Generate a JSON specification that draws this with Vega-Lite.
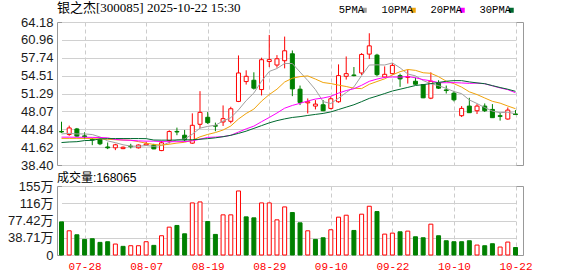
{
  "$schema": "https://vega.github.io/schema/vega-lite/v6.json",
  "background": "white",
  "padding": {"left": 6, "top": 1, "right": 0, "bottom": 0},
  "spacing": -2,
  "config": {
    "view": {"stroke": "#999999", "strokeWidth": 1},
    "axis": {"gridColor": "#d0d0d0", "gridWidth": 1, "labelFont": "Liberation Sans, Noto Sans CJK SC", "labelFontSize": 13, "labelColor": "#1a1a1a", "domain": false, "ticks": false, "labelOverlap": false}
  },
  "data": {"values": [
    {"d":"07-23","o":44.45,"h":46.2,"l":44.2,"c":44.35,"k":"g","v":74.4,"vd":"g","m5":44.0,"m10":43.2,"m20":43.42,"m30":42.45},
    {"d":"07-24","o":43.9,"h":45.5,"l":43.65,"c":45.08,"k":"r","v":54.3,"vd":"r","m5":44.1,"m10":43.2,"m20":43.42,"m30":42.55},
    {"d":"07-25","o":44.9,"h":45.08,"l":43.47,"c":43.6,"k":"g","v":45.4,"vd":"g","m5":44.0,"m10":43.2,"m20":43.4,"m30":42.6},
    {"d":"07-28","o":43.65,"h":44.3,"l":43.05,"c":43.5,"k":"g","v":35.0,"vd":"g","m5":44.0,"m10":43.2,"m20":43.4,"m30":42.8},
    {"d":"07-29","o":43.0,"h":43.29,"l":41.98,"c":42.9,"k":"g","v":36.5,"vd":"g","m5":43.89,"m10":43.15,"m20":43.38,"m30":42.85},
    {"d":"07-30","o":43.0,"h":43.17,"l":41.98,"c":42.22,"k":"g","v":28.3,"vd":"g","m5":43.46,"m10":43.1,"m20":43.35,"m30":43.1},
    {"d":"07-31","o":41.65,"h":42.46,"l":41.26,"c":41.5,"k":"g","v":29.8,"vd":"g","m5":42.74,"m10":43.05,"m20":43.3,"m30":43.15},
    {"d":"08-01","o":41.5,"h":42.22,"l":41.08,"c":42.04,"k":"r","v":24.6,"vd":"r","m5":42.43,"m10":42.95,"m20":43.0,"m30":43.17},
    {"d":"08-04","o":41.35,"h":41.74,"l":41.26,"c":41.6,"k":"r","v":19.4,"vd":"g","m5":42.05,"m10":42.9,"m20":42.9,"m30":43.17},
    {"d":"08-05","o":41.8,"h":42.22,"l":41.38,"c":41.7,"k":"g","v":20.8,"vd":"r","m5":41.81,"m10":42.85,"m20":42.85,"m30":43.17},
    {"d":"08-06","o":41.5,"h":42.1,"l":41.38,"c":42.0,"k":"r","v":20.8,"vd":"r","m5":41.77,"m10":42.61,"m20":42.75,"m30":43.17},
    {"d":"08-07","o":42.0,"h":42.58,"l":41.9,"c":42.2,"k":"r","v":29.8,"vd":"r","m5":41.91,"m10":42.33,"m20":42.7,"m30":43.15},
    {"d":"08-08","o":42.0,"h":42.22,"l":41.26,"c":41.3,"k":"g","v":21.6,"vd":"g","m5":41.76,"m10":42.10,"m20":42.7,"m30":42.9},
    {"d":"08-11","o":41.0,"h":42.76,"l":40.9,"c":42.4,"k":"r","v":43.2,"vd":"r","m5":41.92,"m10":41.99,"m20":42.62,"m30":42.88},
    {"d":"08-12","o":42.8,"h":44.66,"l":42.28,"c":44.43,"k":"r","v":62.5,"vd":"r","m5":42.47,"m10":42.14,"m20":42.6,"m30":42.88},
    {"d":"08-13","o":44.45,"h":45.14,"l":43.77,"c":44.35,"k":"g","v":66.3,"vd":"g","m5":42.94,"m10":42.35,"m20":42.6,"m30":42.9},
    {"d":"08-14","o":43.77,"h":44.72,"l":42.63,"c":42.95,"k":"g","v":47.6,"vd":"g","m5":43.09,"m10":42.50,"m20":42.62,"m30":42.92},
    {"d":"08-15","o":42.34,"h":47.71,"l":42.22,"c":45.56,"k":"r","v":116.9,"vd":"r","m5":43.94,"m10":42.85,"m20":42.75,"m30":42.95},
    {"d":"08-18","o":45.74,"h":51.71,"l":45.02,"c":47.89,"k":"r","v":119.1,"vd":"r","m5":45.04,"m10":43.48,"m20":43.05,"m30":43.05},
    {"d":"08-19","o":47.0,"h":47.95,"l":45.8,"c":46.04,"k":"g","v":75.2,"vd":"g","m5":45.36,"m10":43.91,"m20":43.38,"m30":43.15},
    {"d":"08-20","o":45.5,"h":46.04,"l":44.49,"c":45.4,"k":"g","v":46.2,"vd":"g","m5":45.57,"m10":44.25,"m20":43.43,"m30":43.3},
    {"d":"08-21","o":46.16,"h":49.14,"l":45.44,"c":46.75,"k":"r","v":90.1,"vd":"r","m5":46.33,"m10":44.71,"m20":43.52,"m30":43.5},
    {"d":"08-22","o":46.28,"h":48.9,"l":45.92,"c":48.54,"k":"r","v":90.1,"vd":"r","m5":46.92,"m10":45.43,"m20":43.76,"m30":43.75},
    {"d":"08-25","o":49.86,"h":58.15,"l":49.74,"c":54.99,"k":"r","v":143.7,"vd":"r","m5":48.34,"m10":46.69,"m20":44.34,"m30":44.1},
    {"d":"08-26","o":53.44,"h":55.47,"l":52.9,"c":54.39,"k":"r","v":85.6,"vd":"g","m5":50.01,"m10":47.69,"m20":44.91,"m30":44.5},
    {"d":"08-27","o":53.68,"h":55.11,"l":52.0,"c":52.25,"k":"g","v":83.4,"vd":"g","m5":51.38,"m10":48.48,"m20":45.41,"m30":45.0},
    {"d":"08-28","o":52.0,"h":57.74,"l":50.93,"c":57.38,"k":"r","v":116.9,"vd":"r","m5":53.51,"m10":49.92,"m20":46.21,"m30":45.5},
    {"d":"08-29","o":57.05,"h":61.85,"l":56.06,"c":57.4,"k":"r","v":116.9,"vd":"r","m5":55.27,"m10":51.10,"m20":46.97,"m30":46.0},
    {"d":"09-01","o":56.42,"h":58.21,"l":55.94,"c":57.55,"k":"r","v":78.9,"vd":"r","m5":55.79,"m10":52.07,"m20":47.77,"m30":46.4},
    {"d":"09-02","o":57.2,"h":61.55,"l":55.82,"c":58.99,"k":"r","v":107.9,"vd":"r","m5":56.71,"m10":53.36,"m20":48.64,"m30":46.71},
    {"d":"09-03","o":58.45,"h":59.05,"l":50.81,"c":52.12,"k":"g","v":95.3,"vd":"g","m5":56.69,"m10":54.04,"m20":49.14,"m30":46.97},
    {"d":"09-04","o":52.07,"h":52.72,"l":49.2,"c":49.68,"k":"g","v":72.2,"vd":"g","m5":55.15,"m10":54.33,"m20":49.52,"m30":47.12},
    {"d":"09-05","o":49.6,"h":50.4,"l":47.7,"c":49.8,"k":"r","v":54.3,"vd":"r","m5":53.64,"m10":54.46,"m20":49.94,"m30":47.33},
    {"d":"09-08","o":49.02,"h":50.1,"l":48.42,"c":49.38,"k":"r","v":35.0,"vd":"g","m5":51.99,"m10":53.89,"m20":50.29,"m30":47.52},
    {"d":"09-09","o":49.26,"h":50.1,"l":48.1,"c":48.18,"k":"g","v":38.7,"vd":"g","m5":49.83,"m10":53.27,"m20":50.48,"m30":47.70},
    {"d":"09-10","o":48.6,"h":50.69,"l":48.42,"c":50.34,"k":"r","v":56.6,"vd":"r","m5":49.48,"m10":53.08,"m20":50.78,"m30":47.97},
    {"d":"09-11","o":49.8,"h":56.54,"l":49.62,"c":54.51,"k":"r","v":84.9,"vd":"r","m5":50.44,"m10":52.80,"m20":51.36,"m30":48.40},
    {"d":"09-12","o":54.39,"h":57.97,"l":53.8,"c":54.87,"k":"r","v":89.3,"vd":"r","m5":51.46,"m10":52.55,"m20":51.82,"m30":48.83},
    {"d":"09-15","o":54.63,"h":56.06,"l":54.39,"c":54.51,"k":"g","v":55.1,"vd":"g","m5":52.48,"m10":52.24,"m20":52.15,"m30":49.26},
    {"d":"09-16","o":54.99,"h":58.57,"l":54.63,"c":58.33,"k":"r","v":91.6,"vd":"r","m5":54.51,"m10":52.17,"m20":52.77,"m30":49.82},
    {"d":"09-17","o":58.39,"h":62.15,"l":57.5,"c":59.88,"k":"r","v":109.4,"vd":"r","m5":56.42,"m10":52.95,"m20":53.49,"m30":50.41},
    {"d":"09-18","o":58.21,"h":58.45,"l":54.39,"c":54.69,"k":"g","v":97.5,"vd":"g","m5":56.46,"m10":53.45,"m20":53.89,"m30":50.83},
    {"d":"09-19","o":54.27,"h":56.18,"l":54.15,"c":54.75,"k":"r","v":46.9,"vd":"r","m5":56.43,"m10":53.94,"m20":54.20,"m30":51.28},
    {"d":"09-22","o":54.87,"h":56.78,"l":54.75,"c":56.36,"k":"r","v":49.1,"vd":"r","m5":56.80,"m10":54.64,"m20":54.27,"m30":51.74},
    {"d":"09-23","o":54.51,"h":54.87,"l":52.48,"c":53.92,"k":"g","v":52.1,"vd":"g","m5":55.92,"m10":55.22,"m20":54.24,"m30":52.06},
    {"d":"09-24","o":54.2,"h":55.59,"l":53.08,"c":54.35,"k":"r","v":53.6,"vd":"r","m5":54.81,"m10":55.62,"m20":54.35,"m30":52.39},
    {"d":"09-25","o":53.5,"h":54.15,"l":52.84,"c":52.96,"k":"g","v":40.9,"vd":"g","m5":54.47,"m10":55.46,"m20":54.13,"m30":52.73},
    {"d":"09-26","o":52.9,"h":52.96,"l":50.45,"c":50.51,"k":"g","v":38.7,"vd":"g","m5":53.62,"m10":55.03,"m20":53.79,"m30":52.89},
    {"d":"09-29","o":50.45,"h":55.11,"l":50.27,"c":53.5,"k":"r","v":69.2,"vd":"r","m5":53.05,"m10":54.93,"m20":53.58,"m30":53.08},
    {"d":"09-30","o":53.2,"h":53.68,"l":52.12,"c":52.25,"k":"g","v":43.2,"vd":"g","m5":52.71,"m10":54.32,"m20":53.24,"m30":53.28},
    {"d":"10-09","o":51.94,"h":52.72,"l":51.29,"c":51.82,"k":"g","v":32.0,"vd":"g","m5":52.21,"m10":53.51,"m20":53.23,"m30":53.50},
    {"d":"10-10","o":51.35,"h":51.77,"l":49.86,"c":50.15,"k":"g","v":29.8,"vd":"g","m5":51.65,"m10":53.06,"m20":53.25,"m30":53.61},
    {"d":"10-13","o":47.29,"h":49.02,"l":47.05,"c":48.6,"k":"r","v":29.8,"vd":"g","m5":51.26,"m10":52.44,"m20":53.19,"m30":53.61},
    {"d":"10-14","o":49.02,"h":50.51,"l":47.8,"c":47.83,"k":"g","v":32.0,"vd":"g","m5":50.13,"m10":51.59,"m20":53.12,"m30":53.38},
    {"d":"10-15","o":48.18,"h":49.38,"l":47.59,"c":49.02,"k":"r","v":22.3,"vd":"r","m5":49.48,"m10":51.10,"m20":53.16,"m30":53.20},
    {"d":"10-16","o":49.02,"h":49.5,"l":47.95,"c":48.18,"k":"g","v":20.8,"vd":"g","m5":48.76,"m10":50.48,"m20":53.05,"m30":53.06},
    {"d":"10-17","o":48.42,"h":49.38,"l":46.9,"c":46.93,"k":"g","v":25.3,"vd":"g","m5":48.11,"m10":49.88,"m20":52.67,"m30":52.71},
    {"d":"10-20","o":47.29,"h":47.83,"l":46.4,"c":47.17,"k":"g","v":17.9,"vd":"r","m5":47.83,"m10":49.55,"m20":52.29,"m30":52.37},
    {"d":"10-21","o":46.69,"h":48.78,"l":46.57,"c":48.3,"k":"r","v":29.0,"vd":"r","m5":47.92,"m10":49.03,"m20":51.98,"m30":52.06},
    {"d":"10-22","o":47.6,"h":48.3,"l":47.4,"c":47.5,"k":"g","v":16.8,"vd":"g","m5":47.62,"m10":48.55,"m20":51.43,"m30":51.68}
  ]},
  "vconcat": [
    {
      "width": 466,
      "height": 143,
      "title": {"text": "银之杰[300085] 2025-10-22 15:30", "anchor": "start", "frame": "group", "font": "Liberation Serif, Noto Sans CJK SC", "fontSize": 13, "fontWeight": "normal", "color": "#000000", "baseline": "alphabetic", "offset": -8.5},
      "encoding": {
        "x": {"field": "d", "type": "ordinal", "sort": null,
              "scale": {"type": "point", "range": [4.5, 458.5], "padding": 0},
              "axis": {"values": ["07-28","08-07","08-19","08-29","09-10","09-22","10-10","10-22"], "labels": false, "ticks": false, "domain": false, "grid": true, "gridDash": [4, 3], "gridColor": "#cccccc", "title": null, "minExtent": 0, "maxExtent": 0}}
      },
      "layer": [
        {
          "mark": {"type": "rule", "strokeWidth": 1},
          "encoding": {
            "y": {"field": "l", "type": "quantitative", "scale": {"domain": [38.4, 64.18], "nice": false, "zero": false},
                  "axis": {"values": [38.4, 41.62, 44.84, 48.07, 51.29, 54.51, 57.74, 60.96, 64.18], "format": ".2f", "grid": true, "title": null, "labelPadding": 4, "labelOverlap": false, "labelSeparation": 0, "labelBound": false, "minExtent": 50, "maxExtent": 50}},
            "y2": {"field": "h"},
            "stroke": {"field": "k", "type": "nominal", "scale": {"domain": ["r", "g"], "range": ["#ff0000", "#008000"]}, "legend": null}
          }
        },
        {
          "mark": {"type": "bar", "width": 4, "strokeWidth": 1},
          "encoding": {
            "y": {"field": "o", "type": "quantitative", "axis": {"values": [38.4, 41.62, 44.84, 48.07, 51.29, 54.51, 57.74, 60.96, 64.18], "format": ".2f", "grid": true, "title": null, "labelPadding": 4, "labelOverlap": false, "minExtent": 50, "maxExtent": 50}},
            "y2": {"field": "c"},
            "stroke": {"field": "k", "type": "nominal", "legend": null},
            "fill": {"field": "k", "type": "nominal", "scale": {"domain": ["r", "g"], "range": ["#ffffff", "#008000"]}, "legend": null}
          }
        },
        {
          "transform": [{"fold": ["m5", "m10", "m20", "m30"], "as": ["s", "mv"]}],
          "mark": {"type": "line", "strokeWidth": 1},
          "encoding": {
            "y": {"field": "mv", "type": "quantitative", "axis": {"values": [38.4, 41.62, 44.84, 48.07, 51.29, 54.51, 57.74, 60.96, 64.18], "format": ".2f", "grid": true, "title": null, "labelPadding": 4, "labelOverlap": false, "minExtent": 50, "maxExtent": 50}},
            "color": {"field": "s", "type": "nominal",
                      "scale": {"domain": ["m5", "m10", "m20", "m30"], "range": ["#a0a0a0", "#f0a30a", "#ff00ff", "#006a30"]},
                      "legend": {"orient": "none", "legendX": 302, "legendY": -17, "direction": "horizontal", "title": null,
                                 "labelExpr": "replace(datum.label, 'm', '') + 'PMA'",
                                 "symbolType": "square", "symbolSize": 4, "symbolStrokeWidth": 3,
                                 "labelFont": "Liberation Mono", "labelFontSize": 10.5, "labelColor": "#000000",
                                 "labelAlign": "right", "labelOffset": -5.5, "columnPadding": 9, "gridAlign": "none", "padding": 0}}
          }
        }
      ]
    },
    {
      "width": 466,
      "height": 69,
      "title": {"text": "成交量:168065", "anchor": "start", "frame": "group", "font": "Liberation Sans, Noto Sans CJK SC", "fontSize": 12, "fontWeight": "normal", "color": "#000000", "baseline": "alphabetic", "offset": -13.5},
      "mark": {"type": "bar", "width": 4, "strokeWidth": 1},
      "encoding": {
        "x": {"field": "d", "type": "ordinal", "sort": null,
              "scale": {"type": "point", "range": [4.5, 458.5], "padding": 0},
              "axis": {"values": ["07-28","08-07","08-19","08-29","09-10","09-22","10-10","10-22"], "labelAngle": 0, "labelColor": "#ff0000", "labelFont": "Liberation Mono", "labelFontSize": 11, "labelPadding": 5, "ticks": false, "domain": false, "grid": true, "gridDash": [4, 3], "gridColor": "#cccccc", "title": null}},
        "y": {"field": "v", "type": "quantitative", "scale": {"domain": [0, 154.84], "nice": false},
              "axis": {"values": [0, 38.71, 77.42, 116.13, 154.84], "labelExpr": "datum.value == 0 ? '0' : (datum.value >= 100 ? format(datum.value, '.0f') : format(datum.value, '.2f')) + '万'", "grid": true, "title": null, "labelPadding": 4, "minExtent": 50, "maxExtent": 50}},
        "stroke": {"field": "vd", "type": "nominal", "scale": {"domain": ["r", "g"], "range": ["#ff0000", "#008000"]}, "legend": null},
        "fill": {"field": "vd", "type": "nominal", "scale": {"domain": ["r", "g"], "range": ["#ffffff", "#008000"]}, "legend": null}
      }
    }
  ]
}
